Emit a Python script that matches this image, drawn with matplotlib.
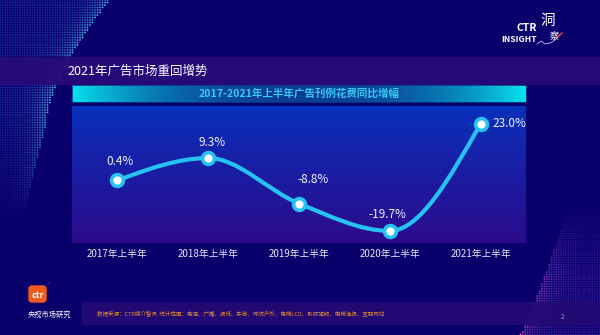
import numpy as np
import matplotlib
matplotlib.use("Agg")
import matplotlib.pyplot as plt
from matplotlib.path import Path
from matplotlib.patches import PathPatch, FancyBboxPatch, Rectangle
from matplotlib.colors import to_rgb

plt.rcParams["font.family"] = ["Noto Sans CJK SC", "DejaVu Sans"]

# data
periods = ["2017年上半年", "2018年上半年", "2019年上半年", "2020年上半年", "2021年上半年"]
growth = [0.4, 9.3, -8.8, -19.7, 23.0]
value_labels = ["0.4%", "9.3%", "-8.8%", "-19.7%", "23.0%"]

page_title = "2021年广告市场重回增势"
chart_title = "2017-2021年上半年广告刊例花费同比增幅"
source_note = ("数据来源：CTR媒介智讯  统计范围：电视、广播、报纸、杂志、传统户外、"
               "电梯LCD、影院视频、电梯海报、互联网站")

# label offsets in points (dx, dy) and horizontal alignment
label_offsets = [(2, 13.5), (3, 11.5), (10, 17), (-2, 11.5), (8.5, 0)]
label_ha = ["center", "center", "center", "center", "left"]

BG = "#0a006c"
BAND = "#280a78"
CYAN = "#26c2f2"


def mix(c1, c2, t):
    a = np.array(to_rgb(c1))
    b = np.array(to_rgb(c2))
    t = np.clip(np.asarray(t, dtype=float), 0, 1)[..., None]
    return a * (1 - t) + b * t


def monotone_path(x, y):
    # monotone cubic (like d3 curveMonotoneX) as bezier path
    x = np.asarray(x, dtype=float)
    y = np.asarray(y, dtype=float)
    h = np.diff(x)
    s = np.diff(y) / h
    n = len(x)
    t = np.zeros(n)
    for i in range(1, n - 1):
        p = (s[i - 1] * h[i] + s[i] * h[i - 1]) / (h[i - 1] + h[i])
        t[i] = (np.sign(s[i - 1]) + np.sign(s[i])) * min(abs(s[i - 1]), abs(s[i]), 0.5 * abs(p))
    t[0] = (3 * s[0] - t[1]) / 2
    t[-1] = (3 * s[-1] - t[-2]) / 2
    verts = [(x[0], y[0])]
    codes = [Path.MOVETO]
    for i in range(n - 1):
        d = h[i] / 3
        verts += [(x[i] + d, y[i] + d * t[i]),
                  (x[i + 1] - d, y[i + 1] - d * t[i + 1]),
                  (x[i + 1], y[i + 1])]
        codes += [Path.CURVE4] * 3
    return Path(verts, codes)


def dots(axis, gx, gy, rgb, alpha, size=1.6):
    m = alpha > 0.02
    rgba = np.concatenate([rgb[m], alpha[m][:, None]], axis=1)
    axis.scatter(gx[m], gy[m], s=size, c=rgba, linewidths=0, zorder=1)


fig = plt.figure(figsize=(6, 3.35), dpi=100)
fig.patch.set_facecolor(BG)

# background layer in pixel coordinates
bg = fig.add_axes((0, 0, 1, 1), zorder=0)
bg.set_xlim(0, 600)
bg.set_ylim(335, 0)
bg.axis("off")
bg.add_patch(Rectangle((0, 0), 600, 335, color=BG, zorder=0))

# dotted mesh top-left
gx, gy = np.meshgrid(np.arange(0, 125, 2.5), np.arange(0, 230, 2.5))
edge = 45 + 65 * np.clip(1 - gy / 130, 0, 1) ** 1.6 - 25 * np.clip((gy - 130) / 100, 0, 1)
dist = edge - gx
near = np.exp(-np.clip(dist, 0, None) / 14)
alpha = np.where(dist > 0, 0.45 + 0.5 * near, 0) * np.clip(1 - (gy - 100) / 120, 0, 1)
dots(bg, gx, gy, mix("#2a58d0", "#50e0ff", near), alpha)

# dotted mesh bottom-right
hx, hy = np.meshgrid(np.arange(470, 602, 2.4), np.arange(200, 337, 2.4))
edge2 = 520 + 33 * np.clip((335 - hy) / 82, 0, None) ** 0.9
dist2 = hx - edge2
near2 = np.exp(-np.clip(dist2, 0, None) / 12)
alpha2 = np.where(dist2 > 0, 0.4 + 0.5 * near2, 0) * np.clip((hy - 205) / 70, 0, 1)
dots(bg, hx, hy, mix("#6a38d0", "#e048b0", near2 * np.clip((hy - 260) / 60, 0.2, 1)), alpha2)

# title band
bg.add_patch(Rectangle((0, 57), 600, 27, color=BAND, alpha=0.92, zorder=2))
bg.text(67, 71, page_title, color="white", fontsize=9, va="center", ha="left", zorder=3)

# header bar with horizontal gradient
xs = np.linspace(0, 1, 454)
tt = np.abs(xs - 0.5) * 2
grad = mix("#0a3e92", "#06e2ee", tt ** 2.2)
bg.imshow(np.repeat(grad[None, :, :], 4, axis=0), extent=(72, 526, 102, 85),
          aspect="auto", zorder=2, interpolation="bilinear")
bg.add_patch(Rectangle((72, 85), 454, 17, fill=False, edgecolor="#0a3a8a", lw=0.6, zorder=2.1))
bg.text(299, 93.5, chart_title, color="#3ac8f5", fontsize=7.6, fontweight="bold",
        ha="center", va="center", zorder=3)

# footer band
bg.add_patch(Rectangle((82, 302), 518, 22, color="#240a74", alpha=0.9, zorder=2))
bg.text(97, 313, source_note, color="#e08a30", fontsize=4, ha="left", va="center", zorder=3)
bg.text(563, 317, "2", color="#a0a0c8", fontsize=4.5, ha="center", va="center", zorder=3)

# ctr logo
bg.add_patch(FancyBboxPatch((29, 286), 17, 16, boxstyle="round,pad=0,rounding_size=3",
                            color="#f05a1e", zorder=3))
bg.text(37.5, 295, "ctr", color="white", fontsize=6.5, fontweight="bold",
        ha="center", va="center", zorder=4)
bg.text(49, 284.5, "®", color="#f07050", fontsize=3, ha="center", va="center", zorder=4)
bg.text(49, 315, "央视市场研究", color="white", fontsize=5.2, ha="center", va="center", zorder=4)

# CTR INSIGHT logo
bg.text(537, 28, "CTR", color="white", fontsize=7.5, fontweight="bold",
        ha="right", va="center", zorder=4)
bg.text(537, 40, "INSIGHT", color="white", fontsize=6.2, fontweight="bold",
        ha="right", va="center", zorder=4)
bg.text(548, 21, "洞", color="white", fontsize=10.5, ha="center", va="center", zorder=4)
bg.text(554, 37, "察", color="white", fontsize=6.5, ha="center", va="center", zorder=4)
bg.plot([537, 541, 545, 550, 555, 561], [44, 41, 44, 43, 40, 34], color="#e0e0ff",
        lw=0.5, zorder=4)
bg.plot([557, 562], [37, 33], color="#e04040", lw=1, zorder=4)

# chart panel
ax = fig.add_axes((72 / 600, (335 - 243) / 335, 454 / 600, 137 / 335), zorder=2)
ax.set_facecolor("none")
ax.set_xlim(-0.5, 4.5)
ax.set_ylim(-24.5, 30)
ys = np.linspace(0, 1, 200)
panel = mix("#0632bc", "#2c0b8c", ys ** 0.9)
ax.imshow(np.repeat(panel[:, None, :], 4, axis=1), extent=(-0.5, 4.5, -24.5, 30),
          aspect="auto", origin="upper", zorder=0, interpolation="bilinear")

xpos = np.arange(len(periods))
ax.add_patch(PathPatch(monotone_path(xpos, growth), fill=False, edgecolor=CYAN,
                       lw=3, capstyle="round", zorder=3))
ax.plot(xpos, growth, "o", ms=8.5, mfc="white", mec=CYAN, mew=2.6, zorder=4)

for i, (v, lbl) in enumerate(zip(growth, value_labels)):
    ax.annotate(lbl, (xpos[i], v), xytext=label_offsets[i], textcoords="offset points",
                ha=label_ha[i], va="center", color="#f0f0ff", fontsize=8.5, zorder=5)

ax.set_xticks(xpos, periods)
ax.set_yticks([])
ax.tick_params(axis="x", length=0, pad=4.5, colors="#e8e8f4", labelsize=7)
for sp in ax.spines.values():
    sp.set_visible(False)

fig.savefig("out.png", dpi=100, facecolor=BG)
